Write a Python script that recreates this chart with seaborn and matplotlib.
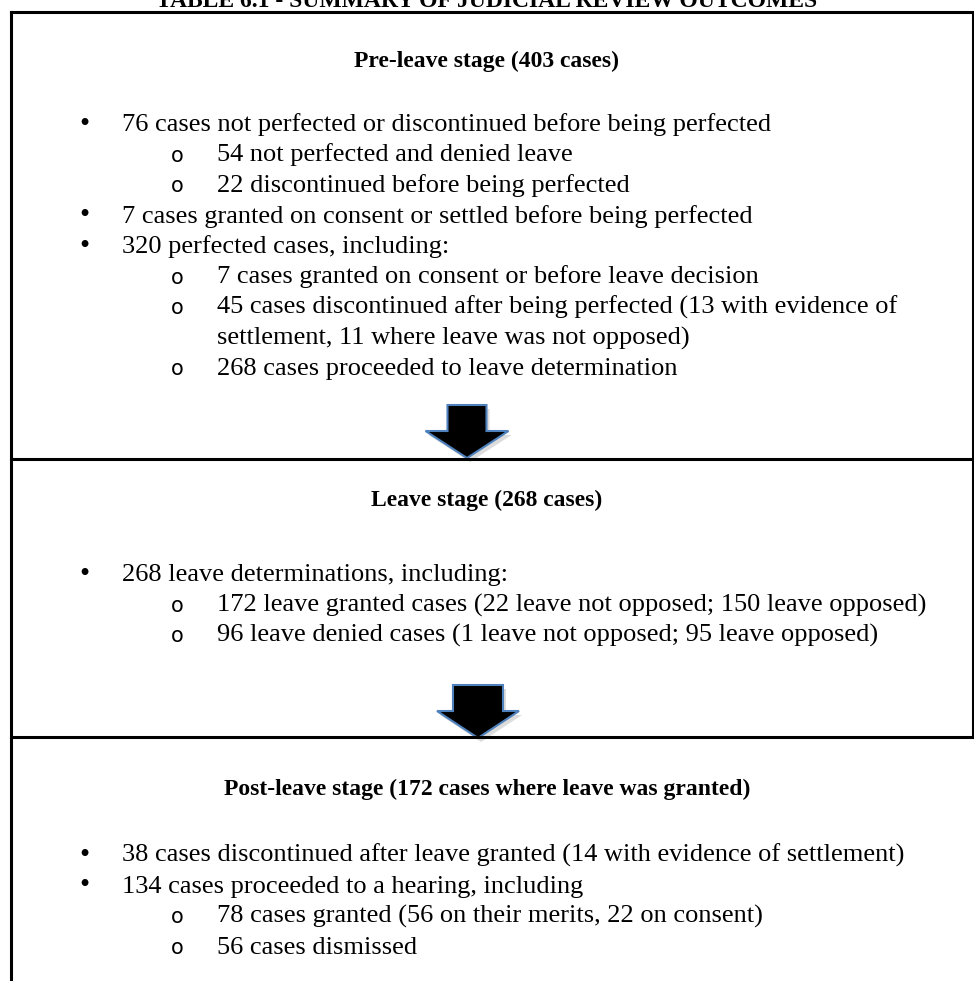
import matplotlib
matplotlib.use("Agg")
import matplotlib.pyplot as plt
from matplotlib.patches import Polygon
import seaborn as sns

# chart content
title = "TABLE 6.1 - SUMMARY OF JUDICIAL REVIEW OUTCOMES"

headings = ["Pre-leave stage (403 cases)",
            "Leave stage (268 cases)",
            "Post-leave stage (172 cases where leave was granted)"]

# level 0 = bullet, 1 = sub bullet, 2 = continuation of sub bullet
pre_leave = [(0, "76 cases not perfected or discontinued before being perfected"),
             (1, "54 not perfected and denied leave"),
             (1, "22 discontinued before being perfected"),
             (0, "7 cases granted on consent or settled before being perfected"),
             (0, "320 perfected cases, including:"),
             (1, "7 cases granted on consent or before leave decision"),
             (1, "45 cases discontinued after being perfected (13 with evidence of"),
             (2, "settlement, 11 where leave was not opposed)"),
             (1, "268 cases proceeded to leave determination")]

leave = [(0, "268 leave determinations, including:"),
         (1, "172 leave granted cases (22 leave not opposed; 150 leave opposed)"),
         (1, "96 leave denied cases (1 leave not opposed; 95 leave opposed)")]

post_leave = [(0, "38 cases discontinued after leave granted (14 with evidence of settlement)"),
              (0, "134 cases proceeded to a hearing, including"),
              (1, "78 cases granted (56 on their merits, 22 on consent)"),
              (1, "56 cases dismissed")]

sections = [pre_leave, leave, post_leave]

# layout (pixels, y downwards)
W, H = 974, 981
sep_y = [12, 459, 737]
head_y = [67, 506, 795]
first_row_y = [131, 581, 862]
pitch = 30.5
arrows = [(467, 405, 39, 83), (478, 685, 50, 82)]  # tip x, top y, shaft w, head w
arrow_h, head_h = 53, 27

sns.set_theme(style="white")
plt.rcParams['font.family'] = ['Liberation Serif', 'DejaVu Serif']

fig = plt.figure(figsize=(W / 100, H / 100), dpi=100)
ax = fig.add_axes([0, 0, 1, 1])
ax.set_xlim(0, W)
ax.set_ylim(H, 0)
ax.axis('off')

fs_head = 17
fs = 19
ax.text(487, 7, title, ha='center', va='baseline', fontsize=fs_head, fontweight='bold', color='black')

# table borders
lw = 2.2
ax.plot([11, 11], [sep_y[0], H], color='black', lw=lw, solid_capstyle='projecting')
ax.plot([973, 973], [sep_y[0], sep_y[2]], color='black', lw=lw)
for y in sep_y:
    ax.plot([11, W], [y, y], color='black', lw=lw, solid_capstyle='projecting')

for i, rows in enumerate(sections):
    ax.text(487, head_y[i], headings[i], ha='center', va='baseline',
            fontsize=fs_head, fontweight='bold', color='black')
    for k, (lvl, txt) in enumerate(rows):
        y = first_row_y[i] + k * pitch
        if lvl == 0:
            ax.text(84, y - 6, "\u2022", ha='center', va='center', fontsize=fs + 2, color='black')
            ax.text(122, y, txt, ha='left', va='baseline', fontsize=fs, color='black')
        else:
            if lvl == 1:
                ax.text(177, y, "o", ha='center', va='baseline', fontsize=fs - 4, color='black',
                        family=['DejaVu Sans'])
            ax.text(217, y, txt, ha='left', va='baseline', fontsize=fs, color='black')

# block arrows between stages
for cx, top, sw, hw in arrows:
    pts = [(cx - sw / 2, top), (cx + sw / 2, top), (cx + sw / 2, top + arrow_h - head_h),
           (cx + hw / 2, top + arrow_h - head_h), (cx, top + arrow_h),
           (cx - hw / 2, top + arrow_h - head_h), (cx - sw / 2, top + arrow_h - head_h)]
    shadow = [(x + 3, y + 4) for x, y in pts]
    ax.add_patch(Polygon(shadow, closed=True, facecolor='#bbbbbb', edgecolor='none', alpha=0.5))
    ax.add_patch(Polygon(pts, closed=True, facecolor='black', edgecolor='#4f81bd', lw=1.5))

fig.savefig("out.png", dpi=100)
